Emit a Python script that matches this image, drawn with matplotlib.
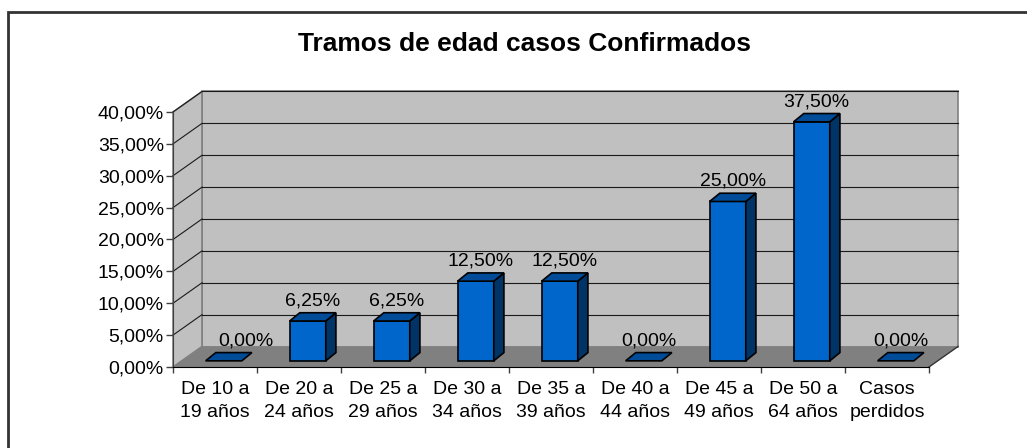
import numpy as np
import matplotlib
matplotlib.use("Agg")
import matplotlib.pyplot as plt
from matplotlib.patches import Polygon, Rectangle

plt.rcParams['font.family'] = ['Liberation Sans', 'DejaVu Sans']

categories = ["De 10 a\n19 años", "De 20 a\n24 años", "De 25 a\n29 años",
              "De 30 a\n34 años", "De 35 a\n39 años", "De 40 a\n44 años",
              "De 45 a\n49 años", "De 50 a\n64 años", "Casos\nperdidos"]
values = [0.00, 6.25, 6.25, 12.50, 12.50, 0.00, 25.00, 37.50, 0.00]
yticks = [0, 5, 10, 15, 20, 25, 30, 35, 40]
title = "Tramos de edad casos Confirmados"

W, H = 1027, 448
fig = plt.figure(figsize=(W / 100, H / 100), dpi=100)
fig.patch.set_facecolor('white')

# outer chart frame (only top/left are visible in the image)
fig.patches.append(Rectangle((8 / W, -0.2), 1.2, 1.2 - 12 / H,
                             transform=fig.transFigure, fill=False,
                             edgecolor='#333333', lw=2))

ax = fig.add_axes([173 / W, 81 / H, 756 / W, 255 / H])
n = len(categories)
ymax = 40
ax.set_xlim(0, n)
ax.set_ylim(0, ymax)

# 3d depth of the walls in data units
Dx, Dy = 29 / 84, 20.5 / 6.375
wall = '#C0C0C0'
floor = '#808080'

ax.add_patch(Polygon([(Dx, Dy), (n + Dx, Dy), (n + Dx, ymax + Dy), (Dx, ymax + Dy)],
                     closed=True, facecolor=wall, edgecolor='#808080', lw=1.2,
                     clip_on=False, zorder=0))
ax.add_patch(Polygon([(0, 0), (Dx, Dy), (Dx, ymax + Dy), (0, ymax)],
                     closed=True, facecolor=wall, edgecolor='#808080', lw=1.2,
                     clip_on=False, zorder=0))
ax.add_patch(Polygon([(0, 0), (n, 0), (n + Dx, Dy), (Dx, Dy)],
                     closed=True, facecolor=floor, edgecolor='none',
                     clip_on=False, zorder=0.5))
ax.plot([n, n + Dx], [0, Dy], color='#333333', lw=1, clip_on=False, zorder=0.6)

# gridlines on back wall and side wall
for t in yticks[1:]:
    ax.plot([Dx, n + Dx], [t + Dy, t + Dy], color='#1a1a1a', lw=0.8,
            clip_on=False, zorder=0.4)
    ax.plot([0, Dx], [t, t + Dy], color='#1a1a1a', lw=0.8,
            clip_on=False, zorder=0.4)

# bars
f0, fd = 0.3, 0.35
bw = 0.43
front_c = '#0066CC'
side_c = '#003366'
top_c = '#004C99'
for i, v in enumerate(values):
    x0 = i + 0.5 - bw / 2 + f0 * Dx
    x1 = x0 + bw
    yb = f0 * Dy
    ox, oy = fd * Dx, fd * Dy * 1.15
    yt = v + yb
    if v > 0:
        ax.add_patch(Polygon([(x0, yb), (x1, yb), (x1, yt), (x0, yt)],
                             facecolor=front_c, edgecolor='black', lw=1.2,
                             clip_on=False, zorder=3))
        ax.add_patch(Polygon([(x1, yb), (x1 + ox, yb + oy), (x1 + ox, yt + oy), (x1, yt)],
                             facecolor=side_c, edgecolor='black', lw=1.2,
                             clip_on=False, zorder=3))
    ax.add_patch(Polygon([(x0, yt), (x1, yt), (x1 + ox, yt + oy), (x0 + ox, yt + oy)],
                         facecolor=top_c, edgecolor='black', lw=1.2,
                         clip_on=False, zorder=3))
    lab = f"{v:.2f}".replace('.', ',') + '%'
    shift = 12 if i == 0 else 0  # first label is pushed off the side wall
    ax.annotate(lab, ((x0 + x1) / 2 + ox / 2, yt + oy), xytext=(shift, 2.5),
                textcoords='offset points', ha='center', va='bottom',
                fontsize=14, zorder=4, annotation_clip=False)

# axes
for s in ['top', 'right']:
    ax.spines[s].set_visible(False)
ax.spines['left'].set_color('#404040')
ax.spines['bottom'].set_color('black')
ax.spines['left'].set_zorder(1)
ax.set_facecolor('none')

ax.set_yticks(yticks)
ax.set_yticklabels([f"{t:.2f}".replace('.', ',') + '%' for t in yticks])
ax.tick_params(axis='y', length=5, width=1, pad=1.5, labelsize=14, color='#404040')

ax.set_xticks(np.arange(n + 1))
ax.set_xticklabels([])
ax.set_xticks(np.arange(n) + 0.5, minor=True)
ax.set_xticklabels(categories, minor=True, fontsize=14, linespacing=1.5)
ax.tick_params(axis='x', which='major', length=4.5, width=1, color='#404040')
ax.tick_params(axis='x', which='minor', length=0, pad=10)

fig.text(525 / W, 1 - 44 / H, title, ha='center', va='center',
         fontsize=19, fontweight='bold')

fig.savefig('out.png', dpi=100)
